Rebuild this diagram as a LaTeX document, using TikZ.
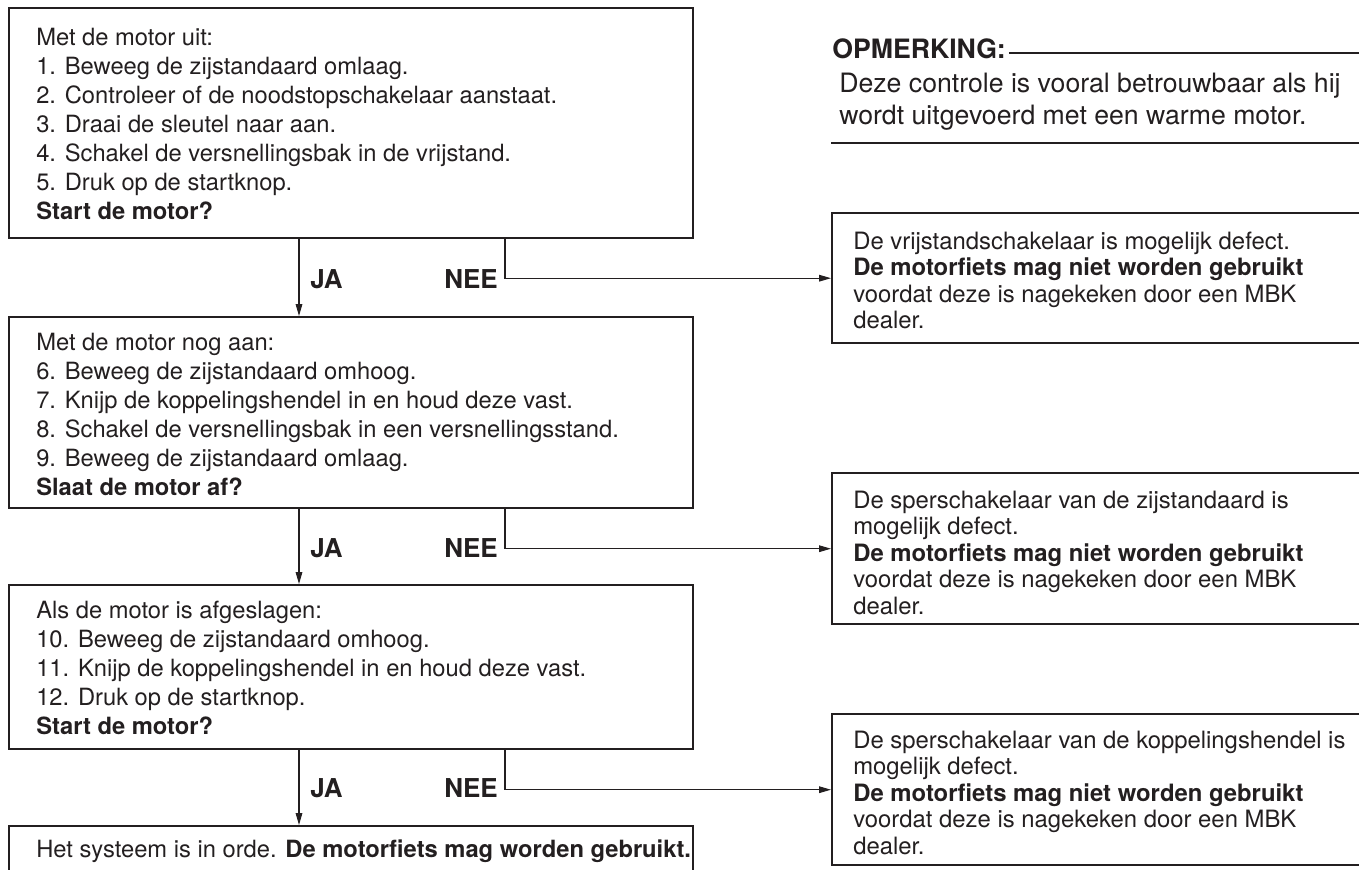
\documentclass[tikz,border=0pt]{standalone}
\usepackage{fontspec}
\setmainfont{TeX Gyre Heros}
\usetikzlibrary{arrows.meta}
\definecolor{ink}{HTML}{231F20}
\begin{document}
\begin{tikzpicture}[x=0.75pt,y=-0.75pt,
  frame/.style={draw=ink, line width=1.8pt, inner sep=0pt, anchor=north west},
  body/.style={anchor=north west, inner sep=0pt, align=left, text=ink, font=\fontsize{17.8}{21.75}\selectfont},
  rbody/.style={anchor=north west, inner sep=0pt, align=left, text=ink, font=\fontsize{17.9}{19.9}\selectfont},
  nbody/.style={anchor=north west, inner sep=0pt, align=left, text=ink, font=\fontsize{20}{24}\selectfont},
  lab/.style={inner sep=0pt, text=ink, font=\fontsize{19.5}{20}\selectfont\bfseries},
  conn/.style={draw=ink, line width=0.8pt},
  arr/.style={conn, -{Triangle[length=9pt,width=5pt]}}
]
\useasboundingbox (0,0) rectangle (1359,870);
\clip (0,0) rectangle (1359,870);

% frames
\node[frame, minimum width=513pt, minimum height=172.5pt] (b1) at (8,7) {};
\node[frame, minimum width=513pt, minimum height=143.25pt] (b2) at (8,316) {};
\node[frame, minimum width=513pt, minimum height=123pt] (b3) at (8,584) {};
\node[frame, minimum width=513pt, minimum height=60pt] (b4) at (8,825) {};
\node[frame, minimum width=420pt, minimum height=97.5pt] (r1) at (831,212) {};
\node[frame, minimum width=420pt, minimum height=113.25pt] (r2) at (831,472) {};
\node[frame, minimum width=420pt, minimum height=113.25pt] (r3) at (831,713) {};

% texts
\node[body] (t1) at (36,21) {\rule{0pt}{18pt}Met de motor uit:\\
1. Beweeg de zijstandaard omlaag.\\
2. Controleer of de noodstopschakelaar aanstaat.\\
3. Draai de sleutel naar aan.\\
4. Schakel de versnellingsbak in de vrijstand.\\
5. Druk op de startknop.\\
\textbf{Start de motor?}};
\node[body] (t2) at (36,326) {\rule{0pt}{18pt}Met de motor nog aan:\\
6. Beweeg de zijstandaard omhoog.\\
7. Knijp de koppelingshendel in en houd deze vast.\\
8. Schakel de versnellingsbak in een versnellingsstand.\\
9. Beweeg de zijstandaard omlaag.\\
\textbf{Slaat de motor af?}};
\node[body] (t3) at (36,594) {\rule{0pt}{18pt}Als de motor is afgeslagen:\\
10. Beweeg de zijstandaard omhoog.\\
11. Knijp de koppelingshendel in en houd deze vast.\\
12. Druk op de startknop.\\
\textbf{Start de motor?}};
\node[body] (t4) at (36,833) {\rule{0pt}{18pt}Het systeem is in orde. \textbf{De motorfiets mag worden gebruikt.}};

\node[rbody] (rt1) at (853,225) {\rule{0pt}{18pt}De vrijstandschakelaar is mogelijk defect.\\
\textbf{De motorfiets mag niet worden gebruikt}\\
voordat deze is nagekeken door een MBK\\
dealer.};
\node[rbody] (rt2) at (853,484) {\rule{0pt}{18pt}De sperschakelaar van de zijstandaard is\\
mogelijk defect.\\
\textbf{De motorfiets mag niet worden gebruikt}\\
voordat deze is nagekeken door een MBK\\
dealer.};
\node[rbody] (rt3) at (853,724) {\rule{0pt}{18pt}De sperschakelaar van de koppelingshendel is\\
mogelijk defect.\\
\textbf{De motorfiets mag niet worden gebruikt}\\
voordat deze is nagekeken door een MBK\\
dealer.};

% note
\node[lab, anchor=base west, font=\fontsize{20}{20}\selectfont\bfseries] (opm) at (832,59) {OPMERKING:};
\node[nbody] (note) at (839,68) {\rule{0pt}{18pt}Deze controle is vooral betrouwbaar als hij\\
wordt uitgevoerd met een warme motor.};
\coordinate (oe) at (1359,53);
\draw[conn] ([xshift=2pt]opm.east |- oe) -- (oe);
\coordinate (nl) at (831,143);
\coordinate (nr) at (1359,143);
\draw[draw=ink, line width=1.1pt] (nl) -- (nr);

% labels
\node[lab, anchor=base west] (ja1) at (310,288) {JA};
\node[lab, anchor=base east] (nee1) at (498,288) {NEE};
\node[lab, anchor=base west] (ja2) at (310,557) {JA};
\node[lab, anchor=base east] (nee2) at (498,557) {NEE};
\node[lab, anchor=base west] (ja3) at (310,797) {JA};
\node[lab, anchor=base east] (nee3) at (498,797) {NEE};

% connectors
\coordinate (cj) at (299,0);
\coordinate (cn) at (505,0);
\draw[arr] (b1.south -| cj) -- (b2.north -| cj);
\draw[arr] (b2.south -| cj) -- (b3.north -| cj);
\draw[arr] (b3.south -| cj) -- (b4.north -| cj);
\draw[arr] (b1.south -| cn) |- (r1.west);
\draw[arr] (b2.south -| cn) |- (r2.west);
\draw[arr] (b3.south -| cn) |- (r3.west);
\end{tikzpicture}
\end{document}
